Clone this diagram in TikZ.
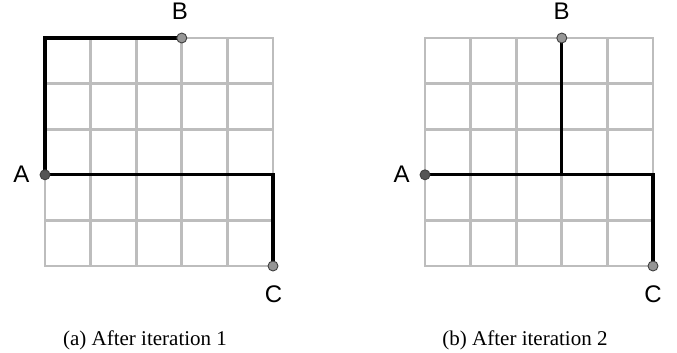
\documentclass[tikz,border=0pt]{standalone}
\usepackage{fontspec}
\setmainfont{Liberation Serif}
\setsansfont{Liberation Sans}
\usetikzlibrary{backgrounds}
\definecolor{gridgray}{HTML}{BDBDBD}
\definecolor{darkdot}{HTML}{555555}
\definecolor{lightdot}{HTML}{969696}
\definecolor{dotedge}{HTML}{404040}
\begin{document}
\begin{tikzpicture}[x=1pt,y=-1pt,
  gridline/.style={draw=gridgray,line width=2.8pt,line cap=rect},
  pathline/.style={draw=black,line width=3.2pt,line join=miter},
  dotnode/.style={circle,draw=dotedge,line width=0.9pt,inner sep=0pt,minimum size=10pt,fill=lightdot},
  lab/.style={font=\sffamily\fontsize{24}{24}\selectfont,anchor=base,inner sep=0pt},
  captext/.style={font=\fontsize{21}{21}\selectfont,anchor=base,inner sep=0pt}]
\useasboundingbox (0,0) rectangle (677,353);

% ---------- (a) ----------
\node[dotnode,fill=darkdot] (A1) at (45,174.8) {};
\node[dotnode] (B1) at (181.8,38) {};
\node[dotnode] (C1) at (273,266) {};
\coordinate (K1) at (45,38);
\coordinate (L1) at (273,174.8);
\begin{pgfonlayer}{background}
\foreach \i in {0,...,5} {
  \draw[gridline] ({45+45.6*\i},38) -- ({45+45.6*\i},266);
  \draw[gridline] (45,{38+45.6*\i}) -- (273,{38+45.6*\i});
}
\draw[pathline] (B1.center) -- (K1) -- (A1.center) -- (L1) -- (C1.center);
\end{pgfonlayer}
\node[lab] (lA1) at (21.5,182.5) {A};
\node[lab] (lB1) at (180,19.5) {B};
\node[lab] (lC1) at (273.5,302.5) {C};
\node[captext] (cap1) at (145,345) {(a) After iteration 1};

% ---------- (b) ----------
\node[dotnode,fill=darkdot] (A2) at (425,174.8) {};
\node[dotnode] (B2) at (561.8,38) {};
\node[dotnode] (C2) at (653,266) {};
\coordinate (M2) at (561.8,174.8);
\coordinate (L2) at (653,174.8);
\begin{pgfonlayer}{background}
\foreach \i in {0,...,5} {
  \draw[gridline] ({425+45.6*\i},38) -- ({425+45.6*\i},266);
  \draw[gridline] (425,{38+45.6*\i}) -- (653,{38+45.6*\i});
}
\draw[pathline] (B2.center) -- (M2);
\draw[pathline] (A2.center) -- (L2) -- (C2.center);
\end{pgfonlayer}
\node[lab] (lA2) at (401.5,182.5) {A};
\node[lab] (lB2) at (561.5,19.5) {B};
\node[lab] (lC2) at (653,302.5) {C};
\node[captext] (cap2) at (525,345) {(b) After iteration 2};
\end{tikzpicture}
\end{document}
